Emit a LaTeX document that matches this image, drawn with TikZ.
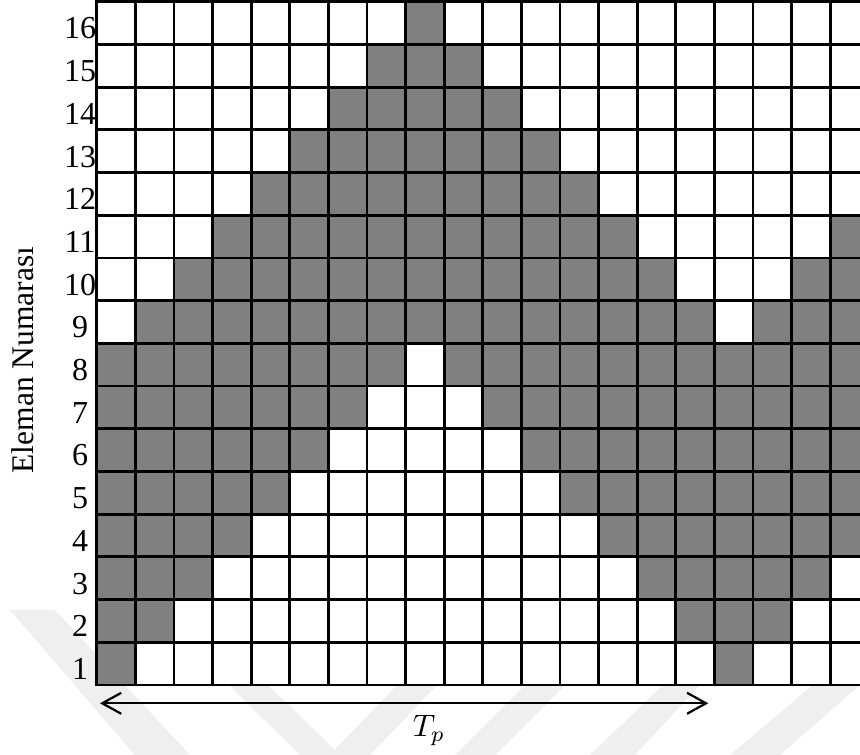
\documentclass[tikz,border=0pt]{standalone}
\usepackage{fontspec}
\setmainfont{Liberation Serif}
\usetikzlibrary{arrows.meta}
\definecolor{cellgray}{HTML}{808080}
\definecolor{wmgray}{HTML}{EFEFEF}
\begin{document}
\begin{tikzpicture}[x=1pt,y=1pt,
  gridline/.style={line width=2.8pt, line cap=rect},
  cellbox/.style={fill=cellgray},
  wmband/.style={fill=wmgray},
  rowlabel/.style={anchor=base, inner sep=0pt, font=\fontsize{32}{32}\selectfont},
  axislabel/.style={rotate=90, anchor=base, inner sep=0pt, font=\fontsize{31.5}{31.5}\selectfont},
  periodarrow/.style={line width=2.2pt, {Straight Barb[length=19pt,width=21pt]}-{Straight Barb[length=19pt,width=21pt]}}]
\useasboundingbox (0,0) rectangle (860,755);
\clip (0,0) rectangle (860,755);
\fill[white] (0,0) rectangle (860,755);
% faint watermark bands
\fill[wmband] (10,145) -- (55,145) -- (190,0) -- (135,0) -- cycle;
\fill[wmband] (229,70) -- (268,70) -- (340,0) -- (300,0) -- cycle;
\fill[wmband] (330,0) -- (370,0) -- (437,70) -- (397,70) -- cycle;
\fill[wmband] (455,0) -- (495,0) -- (565,70) -- (525,70) -- cycle;
\fill[wmband] (590,0) -- (635,0) -- (700,70) -- (663,70) -- cycle;
\fill[wmband] (730,0) -- (780,0) -- (860,70) -- (813,70) -- cycle;
% grid background
\fill[white] (96.7,70) rectangle (868.7,753.3);
% shaded cells: row/first column/last column
\foreach \r/\a/\b in {1/1/1, 1/17/17,
                      2/1/2, 2/16/18,
                      3/1/3, 3/15/19,
                      4/1/4, 4/14/20,
                      5/1/5, 5/13/20,
                      6/1/6, 6/12/20,
                      7/1/7, 7/11/20,
                      8/1/8, 8/10/20,
                      9/2/16, 9/18/20,
                      10/3/15, 10/19/20,
                      11/4/14, 11/20/20,
                      12/5/13, 13/6/12, 14/7/11, 15/8/10, 16/9/9}
  \fill[cellbox] ({96.7+38.6*(\a-1)},{70+42.7*(\r-1)}) rectangle ({96.7+38.6*\b},{70+42.7*\r});
% grid lines
\foreach \k in {0,...,16}
  \draw[gridline] (96.7,{70+42.7*\k}) -- (868.7,{70+42.7*\k});
\foreach \k in {0,...,20}
  \draw[gridline] ({96.7+38.6*\k},70) -- ({96.7+38.6*\k},753.2);
% row labels
\foreach \r in {1,...,16}
  \node[rowlabel] (l\r) at (80,{70+42.7*(\r-1)+5.5}) {\r};
% axis label
\node[axislabel] (ylab) at (33,395) {Eleman Numarası};
% period arrow
\coordinate (aL) at (100,51.7);
\coordinate (aR) at (708.3,51.7);
\draw[periodarrow] (aL) -- (aR);
\node[anchor=base, inner sep=0pt, scale=3.1] (tp) at (429,18) {$T_p$};
\end{tikzpicture}
\end{document}
